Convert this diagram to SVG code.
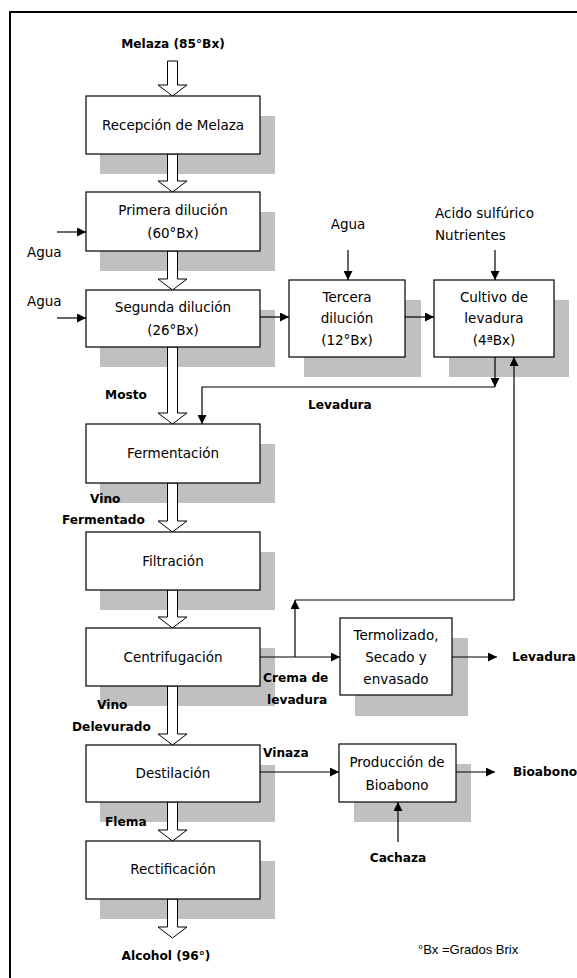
<svg xmlns="http://www.w3.org/2000/svg" width="577" height="978" viewBox="0 0 577 978">
<defs>
<marker id="ah" viewBox="0 0 10 10" refX="10" refY="5" markerWidth="9" markerHeight="9" markerUnits="userSpaceOnUse" orient="auto">
<path d="M0,0 L10,5 L0,10 Z" fill="#000"/>
</marker>
<style>
.box{fill:#fff;stroke:#000;stroke-width:1.2}
.sh{fill:#c0c0c0}
.t{font-family:"DejaVu Sans","Noto Sans",sans-serif;font-size:13.5px;fill:#000;text-anchor:middle}
.l{font-family:"DejaVu Sans","Noto Sans",sans-serif;font-size:13.5px;fill:#000}
.b{font-family:"DejaVu Sans","Noto Sans",sans-serif;font-size:12.2px;font-weight:bold;fill:#000}
.ha{fill:#fff;stroke:#000;stroke-width:1}
.c{fill:none;stroke:#000;stroke-width:1.2}
.ca{fill:none;stroke:#000;stroke-width:1.2;marker-end:url(#ah)}
</style>
</defs>
<rect width="577" height="978" fill="#fff"/>
<rect x="10" y="12" width="580" height="980" fill="none" stroke="#000" stroke-width="2"/>

<g id="shadows">
<rect class="sh" x="100" y="116" width="175" height="58"/>
<rect class="sh" x="100" y="212" width="175" height="59"/>
<rect class="sh" x="100" y="310" width="175" height="57"/>
<rect class="sh" x="304" y="300" width="117" height="77"/>
<rect class="sh" x="449" y="300" width="120" height="77"/>
<rect class="sh" x="100" y="444" width="175" height="59"/>
<rect class="sh" x="100" y="552" width="175" height="58"/>
<rect class="sh" x="100" y="648" width="175" height="58"/>
<rect class="sh" x="355" y="638" width="113" height="78"/>
<rect class="sh" x="100" y="765" width="175" height="57"/>
<rect class="sh" x="354" y="764" width="117" height="58"/>
<rect class="sh" x="100" y="861" width="175" height="58"/>
</g>

<g id="hollow-arrows">
<polygon class="ha" points="167.5,61 177.5,61 177.5,85 187,85 172.5,96 158,85 167.5,85"/>
<polygon class="ha" points="167.5,154 177.5,154 177.5,181 187,181 172.5,192 158,181 167.5,181"/>
<polygon class="ha" points="167.5,251 177.5,251 177.5,279 187,279 172.5,290 158,279 167.5,279"/>
<polygon class="ha" points="167.5,347 177.5,347 177.5,413 187,413 172.5,424 158,413 167.5,413"/>
<polygon class="ha" points="167.5,483 177.5,483 177.5,521 187,521 172.5,532 158,521 167.5,521"/>
<polygon class="ha" points="167.5,590 177.5,590 177.5,617 187,617 172.5,628 158,617 167.5,617"/>
<polygon class="ha" points="167.5,686 177.5,686 177.5,734 187,734 172.5,745 158,734 167.5,734"/>
<polygon class="ha" points="167.5,802 177.5,802 177.5,830 187,830 172.5,841 158,830 167.5,830"/>
<polygon class="ha" points="167.5,899 177.5,899 177.5,927 187,927 172.5,938 158,927 167.5,927"/>
</g>

<g id="connectors">
<line class="ca" x1="57" y1="232" x2="86" y2="232"/>
<line class="ca" x1="57" y1="318" x2="86" y2="318"/>
<line class="ca" x1="260" y1="317" x2="289" y2="317"/>
<line class="ca" x1="405" y1="317" x2="434" y2="317"/>
<line class="ca" x1="348" y1="250" x2="348" y2="280"/>
<line class="ca" x1="495" y1="250" x2="495" y2="280"/>
<line class="ca" x1="495" y1="357" x2="495" y2="387"/>
<polyline class="ca" points="495,387 202,387 202,424"/>
<line class="ca" x1="295" y1="657" x2="295" y2="600"/>
<polyline class="ca" points="295,600 514,600 514,357"/>
<line class="ca" x1="260" y1="657" x2="340" y2="657"/>
<line class="ca" x1="452" y1="657" x2="497" y2="657"/>
<line class="ca" x1="260" y1="772" x2="339" y2="772"/>
<line class="ca" x1="456" y1="772" x2="495" y2="772"/>
<line class="ca" x1="398" y1="842" x2="398" y2="802"/>
</g>

<g id="recepcion"><rect class="box" x="86" y="96" width="174" height="58"/><text class="t" x="173" y="130">Recepción  de Melaza</text></g>
<g id="primera"><rect class="box" x="86" y="192" width="174" height="59"/><text class="t" x="173" y="215">Primera dilución</text><text class="t" x="173" y="238">(60°Bx)</text></g>
<g id="segunda"><rect class="box" x="86" y="290" width="174" height="57"/><text class="t" x="173" y="312">Segunda dilución</text><text class="t" x="173" y="335">(26°Bx)</text></g>
<g id="tercera"><rect class="box" x="289" y="280" width="116" height="77"/><text class="t" x="347" y="302">Tercera</text><text class="t" x="347" y="323">dilución</text><text class="t" x="347" y="345">(12°Bx)</text></g>
<g id="cultivo"><rect class="box" x="434" y="280" width="120" height="77"/><text class="t" x="494" y="302">Cultivo de</text><text class="t" x="494" y="323">levadura</text><text class="t" x="494" y="345">(4ªBx)</text></g>
<g id="fermentacion"><rect class="box" x="86" y="424" width="174" height="59"/><text class="t" x="173" y="458">Fermentación</text></g>
<g id="filtracion"><rect class="box" x="86" y="532" width="174" height="58"/><text class="t" x="173" y="566">Filtración</text></g>
<g id="centrifugacion"><rect class="box" x="86" y="628" width="174" height="58"/><text class="t" x="173" y="662">Centrifugación</text></g>
<g id="termolizado"><rect class="box" x="340" y="618" width="112" height="77"/><text class="t" x="396" y="640">Termolizado,</text><text class="t" x="396" y="662">Secado y</text><text class="t" x="396" y="684">envasado</text></g>
<g id="destilacion"><rect class="box" x="86" y="745" width="174" height="57"/><text class="t" x="173" y="778">Destilación</text></g>
<g id="bioabono"><rect class="box" x="339" y="744" width="117" height="58"/><text class="t" x="397" y="767">Producción de</text><text class="t" x="397" y="790">Bioabono</text></g>
<g id="rectificacion"><rect class="box" x="86" y="841" width="174" height="58"/><text class="t" x="173" y="874">Rectificación</text></g>

<g id="labels">
<text class="b" x="173" y="48" text-anchor="middle" font-size="15.5">Melaza (85°Bx)</text>
<text class="l" x="27" y="257">Agua</text>
<text class="l" x="27" y="306">Agua</text>
<text class="l" x="348" y="229" text-anchor="middle">Agua</text>
<text class="l" x="435" y="218">Acido sulfúrico</text>
<text class="l" x="435" y="240">Nutrientes</text>
<text class="b" x="105" y="399">Mosto</text>
<text class="b" x="308" y="409">Levadura</text>
<text class="b" x="90" y="503">Vino</text>
<text class="b" x="62" y="524">Fermentado</text>
<text class="b" x="263" y="682">Crema de</text>
<text class="b" x="267" y="704">levadura</text>
<text class="b" x="512" y="661">Levadura</text>
<text class="b" x="97" y="709">Vino</text>
<text class="b" x="72" y="731">Delevurado</text>
<text class="b" x="263" y="757">Vinaza</text>
<text class="b" x="513" y="776">Bioabono</text>
<text class="b" x="398" y="862" text-anchor="middle">Cachaza</text>
<text class="b" x="105" y="826">Flema</text>
<text class="b" x="166" y="960" text-anchor="middle" font-size="15">Alcohol (96°)</text>
<text x="418" y="954" font-family="Liberation Sans, Arial, sans-serif" font-size="13" fill="#000">°Bx =Grados Brix</text>
</g>
</svg>
